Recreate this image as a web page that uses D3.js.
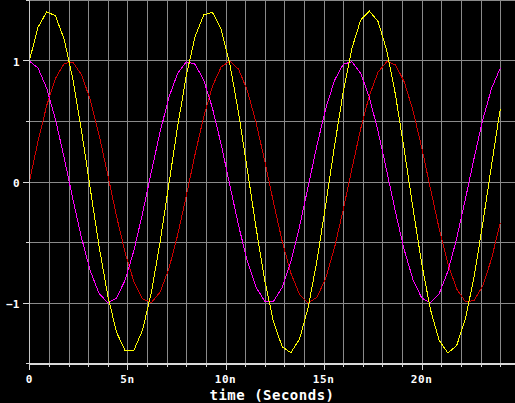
<!DOCTYPE html>
<html>
<head>
<meta charset="utf-8">
<script src="https://cdn.jsdelivr.net/npm/d3@7"></script>
<style>
  html, body { margin: 0; padding: 0; background: #000; }
  svg { display: block; }
  text { font-family: "DejaVu Sans Mono", monospace; font-weight: bold; fill: #fff; }
</style>
</head>
<body>
<svg id="chart" width="515" height="403"></svg>
<script>
// time in nanoseconds
const timeNs = [0, 0.444, 0.889, 1.333, 1.778, 2.222, 2.667, 3.111, 3.556, 4.0, 4.444, 4.889, 5.333, 5.778, 6.222, 6.667, 7.111, 7.556, 8.0, 8.444, 8.889, 9.333, 9.778, 10.222, 10.667, 11.111, 11.556, 12.0, 12.444, 12.889, 13.333, 13.778, 14.222, 14.667, 15.111, 15.556, 16.0, 16.444, 16.889, 17.333, 17.778, 18.222, 18.667, 19.111, 19.556, 20.0, 20.444, 20.889, 21.333, 21.778, 22.222, 22.667, 23.111, 23.556, 24.0];
// red trace
const vRed = [0, 0.336, 0.633, 0.856, 0.980, 0.990, 0.885, 0.677, 0.390, 0.058, -0.281, -0.587, -0.825, -0.967, -0.996, -0.910, -0.718, -0.442, -0.115, 0.225, 0.539, 0.791, 0.951, 1.000, 0.932, 0.757, 0.493, 0.173, -0.168, -0.490, -0.754, -0.931, -1.000, -0.952, -0.793, -0.543, -0.229, 0.111, 0.439, 0.715, 0.908, 0.996, 0.968, 0.827, 0.590, 0.285, -0.054, -0.386, -0.674, -0.883, -0.989, -0.981, -0.858, -0.636, -0.340];
// magenta trace
const vMagenta = [1, 0.942, 0.774, 0.517, 0.199, -0.142, -0.466, -0.736, -0.921, -0.998, -0.960, -0.809, -0.565, -0.255, 0.085, 0.414, 0.697, 0.897, 0.993, 0.974, 0.842, 0.612, 0.311, -0.027, -0.361, -0.653, -0.870, -0.985, -0.986, -0.872, -0.657, -0.365, -0.031, 0.307, 0.609, 0.840, 0.973, 0.994, 0.899, 0.699, 0.418, 0.089, -0.251, -0.562, -0.807, -0.959, -0.999, -0.923, -0.739, -0.470, -0.146, 0.195, 0.513, 0.772, 0.940];
// yellow trace
const vYellow = [1.000, 1.278, 1.407, 1.373, 1.179, 0.848, 0.419, -0.059, -0.531, -0.940, -1.241, -1.396, -1.390, -1.222, -0.911, -0.496, -0.021, 0.455, 0.878, 1.199, 1.381, 1.403, 1.262, 0.973, 0.571, 0.104, -0.377, -0.812, -1.154, -1.362, -1.411, -1.296, -1.031, -0.645, -0.184, 0.297, 0.744, 1.105, 1.338, 1.414, 1.326, 1.085, 0.717, 0.265, -0.217, -0.674, -1.053, -1.309, -1.413, -1.353, -1.135, -0.786, -0.345, 0.136, 0.600];

const xTickValues = [0, 5, 10, 15, 20];
const xTickLabels = ["0", "5n", "10n", "15n", "20n"];
const yTickValues = [-1, 0, 1];
const yTickLabels = ["\u22121", "0", "1"];
const xTitle = "time (Seconds)";

const seriesColors = ["#cc0000", "#ff00ff", "#ffff00"];
const series = [vRed, vMagenta, vYellow];

const svg = d3.select("#chart");
svg.append("rect").attr("width", 515).attr("height", 403).attr("fill", "#000");

const x = d3.scaleLinear().domain([0, 24.75]).range([29.3, 514.9]);
const y = d3.scaleLinear().domain([-1.5, 1.5]).range([363.5, 0.5]);
const px = v => Math.round(x(v)) + 0.5;
const py = v => Math.floor(y(v)) + 0.5;

const grid = svg.append("g").attr("shape-rendering", "crispEdges");
// vertical grid each 1n
grid.selectAll("line.v").data(d3.range(1, 25)).join("line")
  .attr("x1", d => px(d)).attr("x2", d => px(d))
  .attr("y1", 0).attr("y2", 363)
  .attr("stroke", "#8a8a8a").attr("stroke-width", 1);
// horizontal grid each 0.5
grid.selectAll("line.h").data(d3.range(-1.5, 1.51, 0.5)).join("line")
  .attr("x1", 30).attr("x2", 515)
  .attr("y1", d => py(d)).attr("y2", d => py(d))
  .attr("stroke", "#8a8a8a").attr("stroke-width", 1);

// data traces
const line = d3.line().x((d, i) => x(timeNs[i])).y(d => y(d));
svg.append("g").selectAll("path").data(series).join("path")
  .attr("d", d => line(d))
  .attr("fill", "none")
  .attr("stroke", (d, i) => seriesColors[i])
  .attr("stroke-width", 1)
  .attr("shape-rendering", "crispEdges");

// axes
const ax = svg.append("g").attr("shape-rendering", "crispEdges");
ax.append("line").attr("x1", 29.5).attr("x2", 29.5).attr("y1", 0).attr("y2", 365)
  .attr("stroke", "#c8c8c8");
ax.append("line").attr("x1", 29).attr("x2", 515).attr("y1", 364).attr("y2", 364)
  .attr("stroke", "#d8d8d8").attr("stroke-width", 2);
// y ticks
ax.selectAll("line.yt").data(d3.range(-1.5, 1.51, 0.5)).join("line")
  .attr("x1", d => yTickValues.includes(d) ? 23 : 26).attr("x2", 29)
  .attr("y1", d => py(d)).attr("y2", d => py(d))
  .attr("stroke", "#d8d8d8");
// x ticks
ax.selectAll("line.xt").data(d3.range(0, 25)).join("line")
  .attr("x1", d => px(d)).attr("x2", d => px(d))
  .attr("y1", 365).attr("y2", d => xTickValues.includes(d) ? 370 : 367)
  .attr("stroke", "#d8d8d8");

// labels
svg.append("g").selectAll("text").data(xTickValues).join("text")
  .attr("x", d => x(d)).attr("y", 383)
  .attr("text-anchor", "middle").attr("font-size", 11).attr("letter-spacing", 0.6)
  .text((d, i) => xTickLabels[i]);
svg.append("g").selectAll("text").data(yTickValues).join("text")
  .attr("x", 19.5).attr("y", d => y(d) + 4.5)
  .attr("text-anchor", "end").attr("font-size", 11)
  .text((d, i) => yTickLabels[i]);
svg.append("text").attr("x", 272).attr("y", 399.5)
  .attr("text-anchor", "middle").attr("font-size", 14).attr("letter-spacing", 0.5)
  .text(xTitle);
</script>
</body>
</html>
